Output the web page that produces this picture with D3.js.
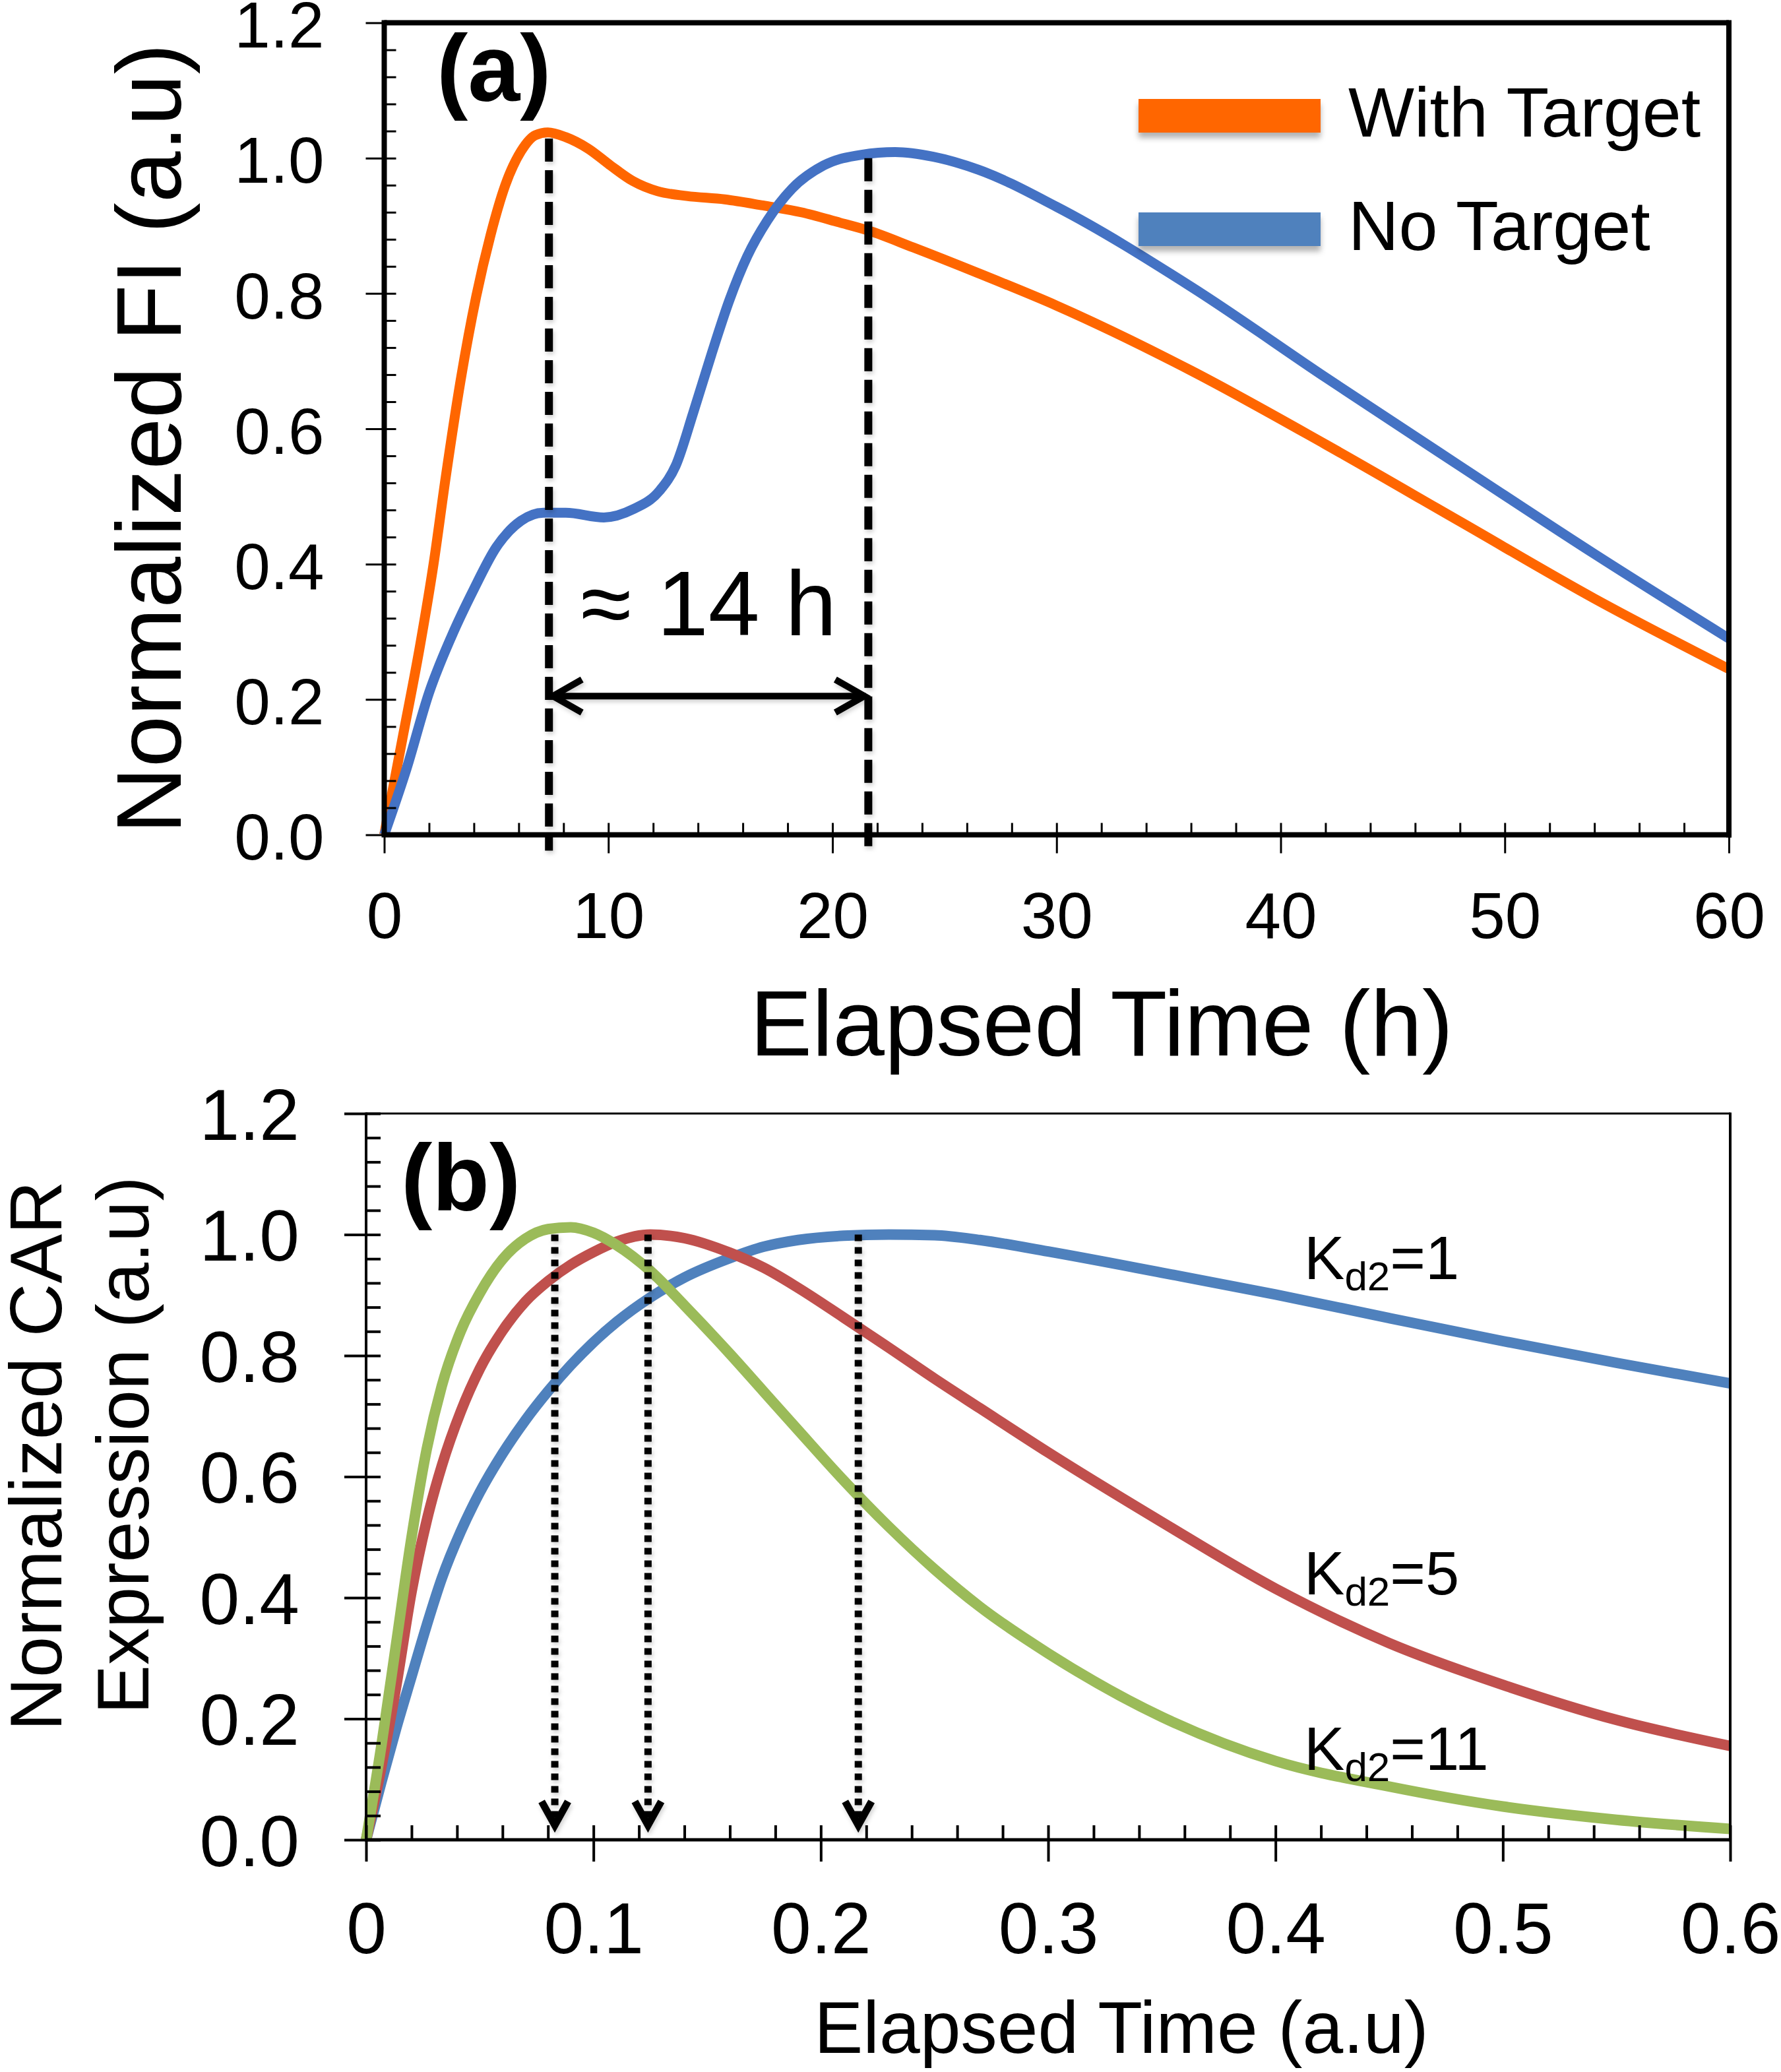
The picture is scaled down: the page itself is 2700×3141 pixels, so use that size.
<!DOCTYPE html>
<html><head><meta charset="utf-8">
<script src="https://cdn.jsdelivr.net/npm/d3@7"></script>
<style>
body{margin:0;background:#fff}
svg{display:block}
text{font-family:"Liberation Sans",Arial,Helvetica,sans-serif;fill:#000}
</style>
</head><body>
<svg id="c" width="2700" height="3141"></svg>
<script>
// ---------- Panel (a) data ----------
const withTargetTime = [0,0.8,1.6,2.2,2.75,3.4,4.1,4.75,5.4,6.1,6.75,7.3,8.1,9.1,10.1,11.1,12.2,13.5,15.2,16.9,18.6,20.3,21.6,23.6,26.5,30,36,42,48,54,60];
const withTargetFI   = [0,0.14,0.28,0.40,0.53,0.67,0.795,0.887,0.96,1.01,1.034,1.038,1.031,1.014,0.989,0.966,0.951,0.944,0.939,0.930,0.920,0.905,0.893,0.868,0.830,0.782,0.686,0.577,0.463,0.349,0.245];
const noTargetTime = [0,1,2,3,4,5,6.1,7.1,8.1,9.8,11.1,12.3,13.0,13.8,14.6,15.4,16.2,17.1,18.2,19.6,21.3,22.8,24.5,26.5,30,36,42,48,54,60];
const noTargetFI   = [0,0.098,0.21,0.293,0.363,0.425,0.464,0.476,0.476,0.469,0.481,0.509,0.545,0.625,0.71,0.79,0.855,0.908,0.955,0.989,1.005,1.009,1.002,0.983,0.928,0.81,0.676,0.545,0.415,0.29];
const seriesNamesA = ["With Target","No Target"];
const xTicksA = [0,10,20,30,40,50,60];
const yTicksA = [0,0.2,0.4,0.6,0.8,1.0,1.2];
const peakTimesA = [7.35, 21.6];
const peakTopsA = [1.029, 1.0];
const delayLabel = "≈ 14 h";

// ---------- Panel (b) data ----------
const timeB = [0,0.0067,0.0133,0.02,0.0267,0.0333,0.0417,0.05,0.06,0.07,0.08,0.09,0.10,0.11,0.125,0.14,0.16,0.175,0.19,0.21,0.23,0.25,0.27,0.30,0.35,0.40,0.45,0.50,0.55,0.60];
const kd1  = [0,0.095,0.185,0.27,0.355,0.432,0.51,0.574,0.638,0.693,0.741,0.784,0.822,0.855,0.896,0.929,0.961,0.980,0.991,0.998,1.0,0.999,0.991,0.972,0.937,0.901,0.862,0.824,0.788,0.754];
const kd5  = [0,0.12,0.255,0.41,0.528,0.618,0.708,0.778,0.841,0.889,0.923,0.950,0.971,0.988,1.0,0.994,0.970,0.945,0.912,0.863,0.813,0.762,0.713,0.64,0.525,0.415,0.325,0.256,0.198,0.155];
const kd11 = [0,0.155,0.326,0.50,0.646,0.75,0.841,0.903,0.959,0.993,1.009,1.012,1.003,0.983,0.94,0.883,0.803,0.740,0.677,0.594,0.517,0.447,0.385,0.308,0.203,0.13,0.088,0.055,0.033,0.018];
const kdValues = ["1","5","11"];
const kdLabelY = [0.926, 0.405, 0.116];
const xTicksB = [0,0.1,0.2,0.3,0.4,0.5,0.6];
const yTicksB = [0,0.2,0.4,0.6,0.8,1.0,1.2];
const peakTimesB = [0.083, 0.124, 0.2165];

const svg = d3.select("#c");
const defs = svg.append("defs");
const sh = defs.append("filter").attr("id","sh").attr("filterUnits","userSpaceOnUse")
  .attr("x",0).attr("y",0).attr("width",2700).attr("height",3141);
sh.append("feDropShadow").attr("dx",0).attr("dy",8).attr("stdDeviation",4).attr("flood-color","#000").attr("flood-opacity",0.3);
const sh2 = defs.append("filter").attr("id","sh2").attr("filterUnits","userSpaceOnUse")
  .attr("x",0).attr("y",0).attr("width",2700).attr("height",3141);
sh2.append("feDropShadow").attr("dx",2).attr("dy",4).attr("stdDeviation",3).attr("flood-color","#000").attr("flood-opacity",0.18);

function range(a,b,s){const r=[];for(let v=a;v<=b+1e-9;v+=s)r.push(+v.toFixed(6));return r;}

function axes(x, y, o){
  const g = svg.append("g");
  const [x0,x1] = x.range(); const [y0,y1] = y.range();
  const xm = range(x.domain()[0], x.domain()[1], o.xMinor).filter(v=>!o.xTicks.some(t=>Math.abs(t-v)<1e-9));
  const ym = range(y.domain()[0], y.domain()[1], o.yMinor).filter(v=>!o.yTicks.some(t=>Math.abs(t-v)<1e-9));
  const gxm = g.append("g").attr("transform",`translate(0,${y0})`)
    .call(d3.axisBottom(x).tickValues(xm).tickSize(-o.minorLen).tickFormat(""));
  const gym = g.append("g").attr("transform",`translate(${x0},0)`)
    .call(d3.axisLeft(y).tickValues(ym).tickSize(-o.minorLen).tickFormat(""));
  [gxm,gym].forEach(s=>{s.select(".domain").remove();s.selectAll("line").attr("stroke","#000").attr("stroke-width",o.tickW);});
  const gx = g.append("g").attr("transform",`translate(0,${y0})`)
    .call(d3.axisBottom(x).tickValues(o.xTicks).tickSize(o.majorOut).tickPadding(o.xPad).tickFormat(o.xFmt));
  gx.selectAll("line").attr("y1",-o.minorLen);
  gx.selectAll("text").attr("font-size",o.font).attr("dy","0.71em");
  const gy = g.append("g").attr("transform",`translate(${x0},0)`)
    .call(d3.axisLeft(y).tickValues(o.yTicks).tickSize(o.majorOut).tickPadding(o.yPad).tickFormat(o.yFmt));
  gy.selectAll("line").attr("x1",o.minorLen);
  gy.selectAll("text").attr("font-size",o.font).attr("dy",o.yDy);
  [gx,gy].forEach(s=>{s.select(".domain").remove();s.selectAll("line").attr("stroke","#000").attr("stroke-width",o.tickW);
    s.selectAll("text").attr("fill","#000").attr("font-family","'Liberation Sans',Arial,sans-serif");});
  g.append("line").attr("x1",x0).attr("x2",x1).attr("y1",y1).attr("y2",y1).attr("stroke","#000").attr("stroke-width",o.topW);
  g.append("line").attr("x1",x1).attr("x2",x1).attr("y1",y1-o.topW/2).attr("y2",y0+o.botW/2).attr("stroke","#000").attr("stroke-width",o.rightW);
  g.append("line").attr("x1",x0-o.leftW/2).attr("x2",x1+o.rightW/2).attr("y1",y0).attr("y2",y0).attr("stroke","#000").attr("stroke-width",o.botW);
  g.append("line").attr("x1",x0).attr("x2",x0).attr("y1",y1-o.topW/2).attr("y2",y0).attr("stroke","#000").attr("stroke-width",o.leftW);
  return g;
}

// ================= Panel (a) =================
const xA = d3.scaleLinear().domain([0,60]).range([582.5,2621]);
const yA = d3.scaleLinear().domain([0,1.2]).range([1265.5,34.5]);

const lineA = d3.line().curve(d3.curveMonotoneX);
const colA = ["#FF6600","#4472C4"];
const legendColA = ["#FF6600","#4F81BD"];
const dataA = [
  withTargetTime.map((t,i)=>[xA(t),yA(withTargetFI[i])]),
  noTargetTime.map((t,i)=>[xA(t),yA(noTargetFI[i])])
];

svg.append("g").selectAll("path").data(dataA).join("path")
  .attr("d",d=>lineA(d)).attr("fill","none")
  .attr("stroke",(d,i)=>colA[i]).attr("stroke-width",15).attr("stroke-linejoin","round");

// dashed peak lines
svg.append("g").attr("filter","url(#sh2)").selectAll("line").data(peakTimesA).join("line")
  .attr("x1",d=>xA(d)).attr("x2",d=>xA(d))
  .attr("y1",(d,i)=>yA(peakTopsA[i])).attr("y2",yA(0)+24)
  .attr("stroke","#000").attr("stroke-width",12).attr("stroke-dasharray","35 13");

axes(xA,yA,{xTicks:xTicksA,yTicks:yTicksA,xMinor:2,yMinor:0.04,minorLen:18,majorOut:28,tickW:3,
  xPad:59,yPad:63,font:98,yDy:"0.38em",xFmt:d3.format("d"),yFmt:d=>d.toFixed(1),
  topW:8,rightW:8,botW:8,leftW:8});

// double arrow
{
  const ya = yA(0.205), xa0 = xA(peakTimesA[0])+4, xa1 = xA(peakTimesA[1])-4;
  const g = svg.append("g").attr("stroke","#000").attr("stroke-width",10).attr("fill","none").attr("filter","url(#sh2)");
  g.append("line").attr("x1",xa0).attr("x2",xa1).attr("y1",ya).attr("y2",ya);
  g.append("path").attr("d",`M${xa0+46},${ya-25}L${xa0+2},${ya}L${xa0+46},${ya+25}`);
  g.append("path").attr("d",`M${xa1-46},${ya-25}L${xa1-2},${ya}L${xa1-46},${ya+25}`);
}
svg.append("text").attr("x",(xA(peakTimesA[0])+xA(peakTimesA[1]))/2).attr("y",yA(0.295))
  .attr("text-anchor","middle").attr("font-size",140).text(delayLabel);

svg.append("text").attr("x",662).attr("y",153).attr("font-size",142).attr("font-weight","bold").text("(a)");

// legend
{
  const g = svg.append("g");
  const ys = [150,322];
  seriesNamesA.forEach((n,i)=>{
    g.append("rect").attr("x",1726).attr("y",ys[i]).attr("width",276).attr("height",51)
      .attr("fill",legendColA[i]).attr("filter","url(#sh)");
    g.append("text").attr("x",2044).attr("y",ys[i]+57).attr("font-size",106).text(n);
  });
}
svg.append("text").attr("transform","translate(274,665) rotate(-90)").attr("text-anchor","middle")
  .attr("font-size",140).text("Normalized FI (a.u)");
svg.append("text").attr("x",1670).attr("y",1600).attr("text-anchor","middle")
  .attr("font-size",141).text("Elapsed Time (h)");

// ================= Panel (b) =================
const xB = d3.scaleLinear().domain([0,0.6]).range([555,2623]);
const yB = d3.scaleLinear().domain([0,1.2]).range([2789,1688]);
const colB = ["#4F81BD","#C0504D","#9BBB59"];
const seriesB = [kd1,kd5,kd11];
const lineB = d3.line().x((d,i)=>xB(timeB[i])).y(d=>yB(d)).curve(d3.curveMonotoneX);

svg.append("g").selectAll("path").data(seriesB).join("path")
  .attr("d",d=>lineB(d)).attr("fill","none")
  .attr("stroke",(d,i)=>colB[i]).attr("stroke-width",16).attr("stroke-linejoin","round");

axes(xB,yB,{xTicks:xTicksB,yTicks:yTicksB,xMinor:0.02,yMinor:0.04,minorLen:22,majorOut:33,tickW:4,
  xPad:62,yPad:68,font:109,yDy:"0.36em",xFmt:d=>d===0?"0":d.toFixed(1),yFmt:d=>d.toFixed(1),
  topW:3,rightW:4,botW:5,leftW:4});

// dotted arrows
{
  const g = svg.append("g").attr("filter","url(#sh2)");
  peakTimesB.forEach(t=>{
    const x = xB(t), yt = yB(1.0), yb = yB(0.022);
    g.append("line").attr("x1",x).attr("x2",x).attr("y1",yt).attr("y2",yb-8)
      .attr("stroke","#000").attr("stroke-width",11).attr("stroke-dasharray","10 9");
    g.append("path").attr("d",`M${x-20},${yb-38}L${x},${yb-2}L${x+20},${yb-38}`)
      .attr("stroke","#000").attr("stroke-width",11).attr("fill","none");
  });
}

svg.append("text").attr("x",608).attr("y",1835).attr("font-size",142).attr("font-weight","bold").text("(b)");

kdValues.forEach((k,i)=>{
  const t = svg.append("text").attr("x",1977).attr("y",yB(kdLabelY[i])).attr("font-size",92);
  t.append("tspan").text("K");
  t.append("tspan").attr("font-size",62).attr("dy",17).text("d2");
  t.append("tspan").attr("dy",-17).text("=" + k);
});

svg.append("text").attr("transform","translate(93,2207) rotate(-90)").attr("text-anchor","middle")
  .attr("font-size",112).text("Normalized CAR");
svg.append("text").attr("transform","translate(225,2191) rotate(-90)").attr("text-anchor","middle")
  .attr("font-size",112).text("Expression (a.u)");
svg.append("text").attr("x",1700).attr("y",3112).attr("text-anchor","middle")
  .attr("font-size",111).text("Elapsed Time (a.u)");
</script>
</body></html>
